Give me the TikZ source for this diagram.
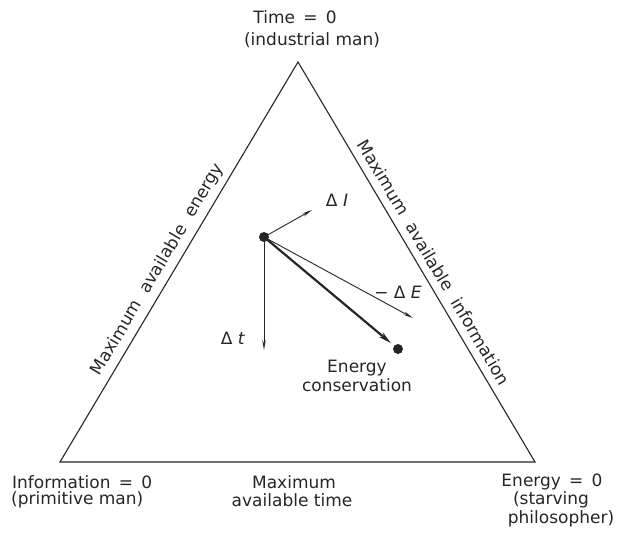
\documentclass[tikz,border=0pt]{standalone}
\usepackage{fontspec}
\setmainfont{DejaVu Sans}
\usetikzlibrary{arrows.meta}
\definecolor{ink}{gray}{0.15}
\begin{document}
\begin{tikzpicture}[x=1pt,y=1pt,
  lbl/.style={font=\fontsize{17}{19}\selectfont, text=ink, inner sep=0pt},
  side/.style={line width=1.1pt, draw=ink},
  vec/.style={line width=0.9pt, draw=ink, -{Stealth[length=10pt,width=3.5pt]}},
  bigvec/.style={line width=2.2pt, draw=ink, -{Stealth[length=13pt,width=6pt]}},
  dotn/.style={circle, fill=ink, minimum size=10pt, inner sep=0pt}]
\useasboundingbox (0,0) rectangle (618,535);
\coordinate (A) at (298,473);
\coordinate (BL) at (60,73);
\coordinate (BR) at (535,73);
\draw[side, line join=miter] (BL) -- (A) -- (BR) -- cycle;
\path (BL) -- (A) node[lbl, pos=0.462, sloped, above=6pt] (le) {Maximum\hspace{0.35em} available\hspace{0.35em} energy};
\path (A) -- (BR) node[lbl, pos=0.52, sloped, above=8pt] (ri) {Maximum\hspace{0.35em} available\hspace{0.35em} information};
% top and bottom labels
\node[lbl] (t1) at (295,518) {Time \,=\, 0};
\node[lbl] (t2) at (312,495) {(industrial man)};
\node[lbl, anchor=west] (l1) at (12,53) {Information \,=\, 0};
\node[lbl, anchor=west] (l2) at (11,35) {(primitive man)};
\node[lbl] (m1) at (294,53) {Maximum};
\node[lbl] (m2) at (292,35) {available time};
\node[lbl] (r1) at (552,53) {Energy \,=\, 0};
\node[lbl] (r2) at (551,35) {(starving};
\node[lbl] (r3) at (561,16) {philosopher)};
% vectors
\node[dotn] (P) at (264,298) {};
\node[dotn] (E) at (398,186) {};
\coordinate (dI) at (312,325);
\coordinate (dt) at (264,185);
\coordinate (dE) at (413,217);
\draw[vec] (P.center) -- (dI);
\draw[vec] (P.center) -- (dt);
\draw[vec] (P.center) -- (dE);
\draw[bigvec, shorten >=4pt] (P.center) -- (E);
\node[lbl] (lI) at (337,335) {Δ \textit{I}};
\node[lbl] (lt) at (233,197) {Δ \textit{t}};
\node[lbl] (lE) at (398,243) {− Δ \textit{E}};
\node[lbl, align=center] (ec) at (357,159) {Energy\\conservation};
\end{tikzpicture}
\end{document}
